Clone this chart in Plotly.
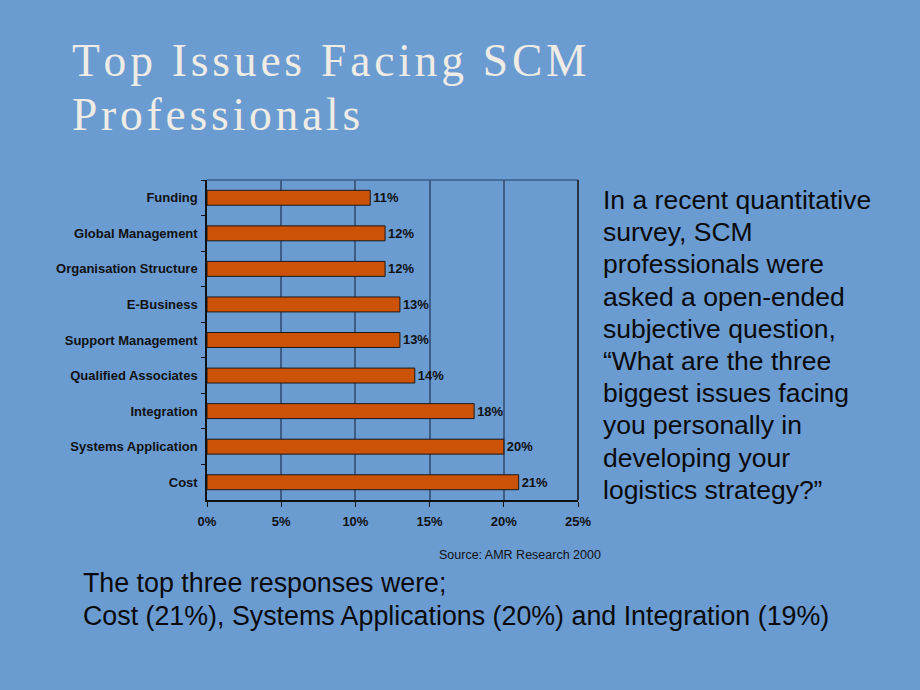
import plotly.graph_objects as go

categories = ["Funding", "Global Management", "Organisation Structure", "E-Business",
              "Support Management", "Qualified Associates", "Integration",
              "Systems Application", "Cost"]
values = [11, 12, 12, 13, 13, 14, 18, 20, 21]
x_ticks = [0, 5, 10, 15, 20, 25]
x_tick_labels = ["0%", "5%", "10%", "15%", "20%", "25%"]

title_lines = ["Top Issues Facing SCM", "Professionals"]
side_lines = ["In a recent quantitative", "survey, SCM", "professionals were",
              "asked a open-ended", "subjective question,",
              "\u201cWhat are the three", "biggest issues facing",
              "you personally in", "developing your", "logistics strategy?\u201d"]
bottom_lines = ["The top three responses were;",
                "Cost (21%), Systems Applications (20%) and Integration (19%)"]
source = "Source: AMR Research 2000"

BG = "#6a9bd1"
L, R, T, B = 207, 578, 180, 500
PW, PH = R - L, B - T


def fx(x):
    return (x - L) / PW


def fy(y):
    return (B - y) / PH


def spaced(s):
    return "\u200a".join(list(s))


fig = go.Figure()
fig.add_trace(go.Bar(
    y=categories, x=values, orientation="h",
    marker=dict(color="#cc5208", line=dict(color="#1a1a1a", width=1)),
    text=[f"{v}%" for v in values], textposition="outside",
    textfont=dict(family="Liberation Sans", size=13, color="#111111", weight="bold"),
    cliponaxis=False, width=0.42,
))

fig.update_layout(
    width=920, height=690,
    paper_bgcolor=BG, plot_bgcolor=BG,
    margin=dict(l=L, r=920 - R, t=T, b=690 - B),
    showlegend=False,
    xaxis=dict(range=[0, 25], tickvals=x_ticks, ticktext=x_tick_labels,
               showgrid=True, gridcolor="#3d5d86", gridwidth=1.5,
               showline=True, linecolor="#111111", linewidth=1.5, mirror=False,
               ticks="outside", ticklen=5, tickcolor="#111111",
               tickfont=dict(family="Liberation Sans", size=13, color="#111111", weight="bold"),
               zeroline=False, fixedrange=True, ticklabelstandoff=4),
    yaxis=dict(categoryorder="array", categoryarray=categories, autorange="reversed",
               showline=True, linecolor="#111111", linewidth=1.5,
               ticks="outside", ticklen=4, tickcolor="#111111", tickson="boundaries",
               tickfont=dict(family="Liberation Sans", size=13, color="#111111", weight="bold"),
               showgrid=False, zeroline=False, fixedrange=True, ticklabelstandoff=5),
)

# plot frame: top (grid-coloured) and right (dark)
fig.add_shape(type="line", xref="paper", yref="paper", x0=0, x1=1, y0=1, y1=1,
              line=dict(color="#3d5d86", width=1.5))
fig.add_shape(type="line", xref="paper", yref="paper", x0=1, x1=1, y0=0, y1=1,
              line=dict(color="#111111", width=1.5))

for i, t in enumerate(title_lines):
    fig.add_annotation(text=spaced(t), xref="paper", yref="paper", x=fx(70),
                       y=fy(88 + i * 54), xanchor="left", yanchor="bottom",
                       showarrow=False,
                       font=dict(family="Liberation Serif", size=45.5, color="#efebe5"))

for i, t in enumerate(side_lines):
    yc = 200 + i * 32.2
    fig.add_annotation(text=t, xref="paper", yref="paper", x=fx(601),
                       y=fy(yc), xanchor="left", yanchor="middle",
                       showarrow=False,
                       font=dict(family="Liberation Sans", size=26.5, color="#0a0a0a"))

for i, t in enumerate(bottom_lines):
    yc = 583 + i * 33
    fig.add_annotation(text=t, xref="paper", yref="paper", x=fx(81),
                       y=fy(yc), xanchor="left", yanchor="middle",
                       showarrow=False,
                       font=dict(family="Liberation Sans", size=26.8, color="#0a0a0a"))

fig.add_annotation(text=source, xref="paper", yref="paper", x=fx(603),
                   y=fy(555), xanchor="right", yanchor="middle",
                   showarrow=False,
                   font=dict(family="Liberation Sans", size=12.5, color="#111111"))

fig.write_html("out.html")
